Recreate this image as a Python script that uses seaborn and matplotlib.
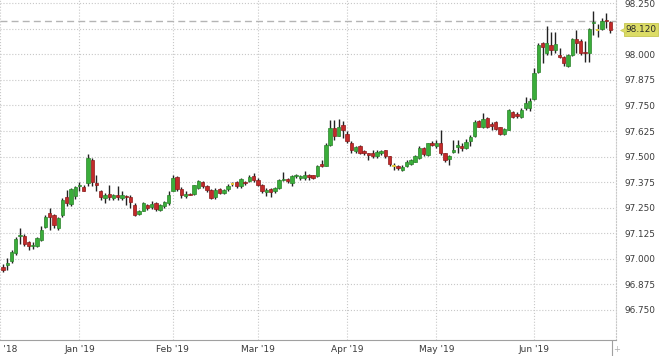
"""Daily candlestick chart, Dec 2018 - Jun 2019, price scale on the right.

Outputs: out.png
"""
import numpy as np
import pandas as pd
import matplotlib
matplotlib.use("Agg")
import matplotlib.pyplot as plt
import matplotlib.transforms as mtransforms
from matplotlib.lines import Line2D
import seaborn as sns

# trading days (business days without the exchange holidays below)
START, END = "2018-12-05", "2019-06-27"
HOLIDAYS = ["2018-12-25", "2019-01-01", "2019-04-19"]

OPEN = [96.960, 96.970, 96.991, 97.028, 97.111, 97.113, 97.080, 97.061, 97.064, 97.093,
        97.155, 97.224, 97.212, 97.150, 97.212, 97.300, 97.269, 97.305, 97.354, 97.349,
        97.373, 97.484, 97.370, 97.330, 97.298, 97.317, 97.298, 97.311, 97.298, 97.309,
        97.301, 97.265, 97.219, 97.236, 97.265, 97.252, 97.271, 97.237, 97.257, 97.273,
        97.333, 97.400, 97.343, 97.306, 97.319, 97.317, 97.346, 97.374, 97.358, 97.338,
        97.302, 97.341, 97.322, 97.341, 97.367, 97.374, 97.354, 97.375, 97.379, 97.403,
        97.387, 97.362, 97.325, 97.341, 97.330, 97.346, 97.384, 97.390, 97.371, 97.406,
        97.393, 97.395, 97.411, 97.408, 97.403, 97.465, 97.455, 97.558, 97.639, 97.603,
        97.656, 97.612, 97.566, 97.525, 97.550, 97.525, 97.517, 97.517, 97.501, 97.517,
        97.530, 97.501, 97.455, 97.455, 97.436, 97.455, 97.465, 97.476, 97.493, 97.542,
        97.509, 97.569, 97.553, 97.566, 97.517, 97.488, 97.524, 97.546, 97.550, 97.542,
        97.574, 97.599, 97.672, 97.647, 97.688, 97.660, 97.667, 97.644, 97.612, 97.631,
        97.716, 97.709, 97.693, 97.737, 97.737, 97.781, 97.916, 98.058, 98.009, 98.046,
        98.022, 97.997, 97.986, 97.945, 97.997, 98.074, 98.066, 98.014, 98.006, 98.155,
        98.121, 98.123, 98.168, 98.160]
HIGH = [96.973, 97.004, 97.045, 97.107, 97.149, 97.123, 97.085, 97.080, 97.107, 97.159,
        97.216, 97.248, 97.220, 97.207, 97.297, 97.338, 97.346, 97.357, 97.378, 97.362,
        97.513, 97.492, 97.411, 97.338, 97.322, 97.363, 97.317, 97.354, 97.330, 97.314,
        97.311, 97.273, 97.241, 97.278, 97.270, 97.281, 97.278, 97.268, 97.285, 97.330,
        97.411, 97.403, 97.350, 97.330, 97.322, 97.363, 97.387, 97.379, 97.363, 97.341,
        97.346, 97.346, 97.343, 97.367, 97.374, 97.379, 97.395, 97.379, 97.411, 97.420,
        97.395, 97.367, 97.346, 97.346, 97.351, 97.390, 97.423, 97.395, 97.411, 97.413,
        97.411, 97.428, 97.416, 97.411, 97.460, 97.481, 97.566, 97.680, 97.680, 97.683,
        97.672, 97.623, 97.574, 97.553, 97.558, 97.530, 97.520, 97.533, 97.530, 97.533,
        97.533, 97.504, 97.468, 97.460, 97.460, 97.485, 97.490, 97.509, 97.550, 97.546,
        97.569, 97.574, 97.582, 97.628, 97.520, 97.509, 97.582, 97.582, 97.566, 97.586,
        97.607, 97.680, 97.680, 97.712, 97.696, 97.667, 97.672, 97.647, 97.639, 97.732,
        97.721, 97.716, 97.737, 97.794, 97.786, 97.932, 98.054, 98.062, 98.139, 98.111,
        98.111, 98.030, 97.993, 98.002, 98.079, 98.119, 98.074, 98.067, 98.128, 98.212,
        98.149, 98.176, 98.201, 98.165]
LOW = [96.934, 96.944, 96.980, 97.019, 97.074, 97.064, 97.045, 97.048, 97.058, 97.085,
       97.149, 97.139, 97.149, 97.142, 97.207, 97.256, 97.256, 97.292, 97.330, 97.330,
       97.354, 97.354, 97.330, 97.289, 97.273, 97.289, 97.289, 97.289, 97.289, 97.265,
       97.249, 97.208, 97.213, 97.232, 97.241, 97.245, 97.232, 97.232, 97.249, 97.265,
       97.330, 97.330, 97.298, 97.298, 97.311, 97.314, 97.341, 97.346, 97.325, 97.292,
       97.292, 97.317, 97.315, 97.330, 97.354, 97.346, 97.346, 97.362, 97.374, 97.374,
       97.354, 97.322, 97.309, 97.302, 97.322, 97.341, 97.379, 97.371, 97.354, 97.395,
       97.384, 97.387, 97.387, 97.392, 97.400, 97.449, 97.452, 97.550, 97.579, 97.599,
       97.590, 97.566, 97.520, 97.520, 97.514, 97.509, 97.481, 97.493, 97.493, 97.509,
       97.493, 97.455, 97.436, 97.436, 97.428, 97.449, 97.460, 97.472, 97.488, 97.504,
       97.501, 97.550, 97.542, 97.509, 97.476, 97.460, 97.517, 97.517, 97.525, 97.537,
       97.550, 97.595, 97.644, 97.639, 97.639, 97.631, 97.631, 97.605, 97.608, 97.628,
       97.688, 97.688, 97.688, 97.729, 97.721, 97.778, 97.911, 97.957, 97.997, 97.997,
       98.006, 97.981, 97.944, 97.940, 97.993, 98.006, 97.997, 97.965, 97.965, 98.095,
       98.087, 98.119, 98.128, 98.103]
CLOSE = [96.947, 96.980, 97.032, 97.097, 97.116, 97.072, 97.061, 97.069, 97.100, 97.142,
         97.207, 97.207, 97.167, 97.199, 97.286, 97.273, 97.341, 97.351, 97.362, 97.334,
         97.492, 97.378, 97.362, 97.302, 97.311, 97.301, 97.311, 97.304, 97.314, 97.302,
         97.278, 97.216, 97.232, 97.273, 97.249, 97.268, 97.245, 97.265, 97.278, 97.314,
         97.395, 97.343, 97.314, 97.319, 97.314, 97.359, 97.382, 97.354, 97.335, 97.297,
         97.338, 97.322, 97.338, 97.358, 97.367, 97.354, 97.390, 97.369, 97.400, 97.384,
         97.362, 97.330, 97.338, 97.325, 97.346, 97.384, 97.390, 97.379, 97.406, 97.411,
         97.406, 97.411, 97.398, 97.397, 97.455, 97.455, 97.558, 97.639, 97.603, 97.647,
         97.628, 97.574, 97.533, 97.546, 97.520, 97.517, 97.506, 97.501, 97.522, 97.527,
         97.501, 97.465, 97.455, 97.444, 97.447, 97.475, 97.485, 97.501, 97.542, 97.514,
         97.566, 97.558, 97.569, 97.520, 97.485, 97.501, 97.533, 97.555, 97.540, 97.571,
         97.595, 97.667, 97.647, 97.683, 97.647, 97.651, 97.634, 97.610, 97.634, 97.729,
         97.696, 97.699, 97.729, 97.761, 97.770, 97.908, 98.046, 98.035, 98.058, 98.022,
         98.049, 97.989, 97.960, 97.997, 98.074, 98.058, 98.006, 98.006, 98.123, 98.160,
         98.121, 98.165, 98.163, 98.120]

Y_TICKS = [96.750, 96.875, 97.000, 97.125, 97.250, 97.375, 97.500,
           97.625, 97.750, 97.875, 98.000, 98.125, 98.250]
LAST_PRICE = 98.120
REF_LEVEL = 98.165

UP, UP_EDGE = "#3aad3a", "#2a842a"
DOWN, DOWN_EDGE = "#c32a2a", "#8c1a1a"
FLAT = "#e2c93a"
GRID = "#c8c8c8"
TEXT = "#3a3a3a"


def main():
    sns.set_theme(style="white")
    plt.rcParams.update({"font.family": ["DejaVu Sans"], "font.size": 6.5})

    dates = pd.bdate_range(START, END, freq="C", holidays=HOLIDAYS)
    df = pd.DataFrame({"date": dates, "open": OPEN, "high": HIGH,
                       "low": LOW, "close": CLOSE})
    df["pos"] = np.arange(len(df))
    up = df[df.close > df.open]
    down = df[df.close < df.open]
    flat = df[df.close == df.open]

    fig = plt.figure(figsize=(6.6, 3.56), dpi=100)
    ax = fig.add_axes([0, 1 - 340 / 356, 616 / 660, 340 / 356])

    w = 0.8
    ax.vlines(df.pos, df.low, df.high, color="#222222", lw=1.0, zorder=3)
    ax.bar(up.pos, up.close - up.open, bottom=up.open, width=w, color=UP,
           edgecolor=UP_EDGE, linewidth=0.5, zorder=4)
    ax.bar(down.pos, down.close - down.open, bottom=down.open, width=w,
           color=DOWN, edgecolor=DOWN_EDGE, linewidth=0.5, zorder=4)
    ax.hlines(flat.close, flat.pos - w / 2, flat.pos + w / 2, color=FLAT,
              lw=1.4, zorder=4)

    ax.axhline(REF_LEVEL, color="#b4b4b4", lw=1.0, ls=(0, (5, 3)), zorder=2)

    ax.set_xlim(-0.71, len(df) + 0.3)
    ax.set_ylim(96.603, 98.266)

    # month ticks at the first trading day of each month
    month_first = df.groupby(df.date.dt.to_period("M")).pos.min()
    xt = [ax.get_xlim()[0]] + list(month_first.values[1:])
    xl = [p.strftime("%b '%y") for p in month_first.index]
    ax.set_xticks(xt)
    ax.set_xticklabels(xl)
    ax.set_yticks(Y_TICKS)
    ax.set_yticklabels(["" if abs(v - 98.125) < 1e-6 else f"{v:.3f}"
                        for v in Y_TICKS])
    ax.yaxis.tick_right()
    ax.tick_params(axis="y", length=0, pad=5.8, labelsize=6.4, labelcolor=TEXT)
    ax.tick_params(axis="x", length=0, pad=3.5, labelsize=6.5, labelcolor=TEXT)

    ax.grid(True, color=GRID, lw=0.8, ls=":")
    ax.set_axisbelow(True)
    for side in ("top", "left"):
        ax.spines[side].set_visible(False)
    ax.spines["bottom"].set_color("#a0a0a0")
    ax.spines["bottom"].set_linewidth(0.8)
    ax.spines["right"].set_color(GRID)
    ax.spines["right"].set_linestyle(":")
    ax.spines["right"].set_linewidth(0.8)

    # last price marker on the price scale
    trans = mtransforms.blended_transform_factory(ax.transAxes, ax.transData)
    off = mtransforms.ScaledTranslation(9.5 / 100, 0, fig.dpi_scale_trans)
    ax.text(1.0, LAST_PRICE, f"{LAST_PRICE:.3f}", transform=trans + off,
            ha="left", va="center", fontsize=6.4, color="#2a2a2a", clip_on=False,
            bbox=dict(boxstyle="square,pad=0.22", fc="#dcdc66", ec="#c6c650", lw=0.6),
            zorder=6)
    tip = mtransforms.ScaledTranslation(6.5 / 100, 0, fig.dpi_scale_trans)
    ax.plot([1.0], [LAST_PRICE], marker="<", ms=4.5, color="#dcdc66",
            mec="#c6c650", mew=0.4, transform=trans + tip, clip_on=False, zorder=6)

    # small scale control at the bottom right corner
    fig.add_artist(Line2D([612 / 660, 612 / 660], [0, 16 / 356],
                          color="#a0a0a0", lw=0.8))
    fig.text(617 / 660, 1 - 349 / 356, "+", ha="center", va="center",
             fontsize=6, color="#b0b0b0")

    fig.savefig("out.png", dpi=100)
    plt.close(fig)


if __name__ == "__main__":
    main()
